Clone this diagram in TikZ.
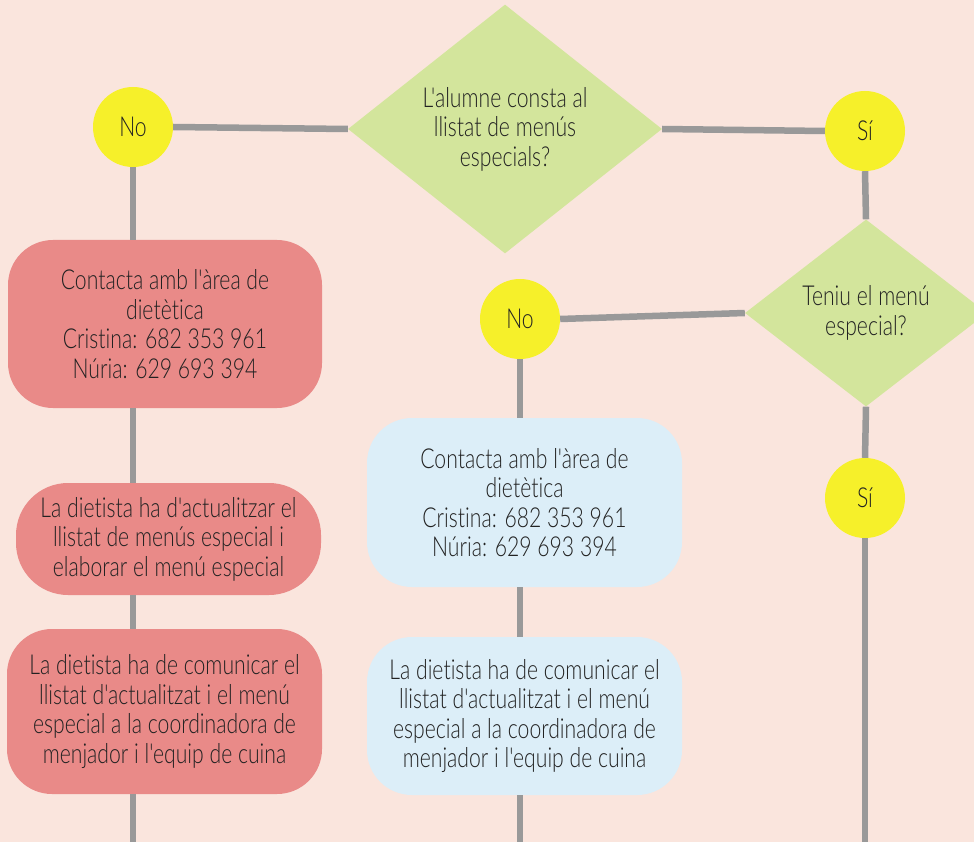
\documentclass[tikz,border=0pt]{standalone}
\usepackage{fontspec}
\IfFontExistsTF{Lato Light}
  {\setmainfont{Lato Light}[FakeStretch=0.77, Ligatures={TeXOff,NoCommon}]}
  {\setmainfont{Lato}[FakeStretch=0.77, Ligatures={TeXOff,NoCommon}]}
\usetikzlibrary{shapes.geometric}
\definecolor{bgc}{HTML}{FAE5DD}
\definecolor{redf}{HTML}{E98A88}
\definecolor{bluef}{HTML}{DCEEF8}
\definecolor{greenf}{HTML}{D3E59C}
\definecolor{yellowf}{HTML}{F6F02A}
\definecolor{linegray}{HTML}{999999}
\definecolor{textc}{HTML}{222222}
\begin{document}
\begin{tikzpicture}[x=1pt,y=-1pt,
  conn/.style={draw=linegray, line width=6.5pt},
  txt/.style={font=\fontsize{27.5}{29.5}\selectfont, text=textc, align=center},
  decision/.style={diamond, fill=greenf, inner sep=0pt, txt},
  answer/.style={circle, fill=yellowf, minimum size=80pt, inner sep=0pt, txt},
  redbox/.style={rectangle, rounded corners=45pt, fill=redf, inner sep=0pt, txt},
  bluebox/.style={rectangle, rounded corners=45pt, fill=bluef, inner sep=0pt, txt}]
\fill[bgc] (0,0) rectangle (974,842);
\useasboundingbox (0,0) rectangle (974,842);
\coordinate (bot) at (0,842);

\node[decision, minimum width=314pt, minimum height=243pt] (d1) at (505,129)
  {L'alumne consta al\\llistat de menús\\especials?};
\node[answer] (no1) at (133,127) {No};
\node[answer] (si1) at (865,131) {Sí};

\node[decision, minimum width=242pt, minimum height=187pt] (d2) at (866,313)
  {Teniu el menú\\especial?};
\node[answer] (no2) at (520,319) {No};
\node[answer] (si2) at (865,498) {Sí};

\node[redbox, minimum width=314pt, minimum height=168pt] (r1) at (165,324)
  {Contacta amb l'àrea de\\dietètica\\Cristina: 682 353 961\\Núria: 629 693 394};
\node[redbox, rounded corners=52pt, minimum width=305pt, minimum height=112pt] (r2) at (168.5,539)
  {La dietista ha d'actualitzar el\\llistat de menús especial i\\elaborar el menú especial};
\node[redbox, minimum width=315pt, minimum height=165pt] (r3) at (164.5,711.5)
  {La dietista ha de comunicar el\\llistat d'actualitzat i el menú\\especial a la coordinadora de\\menjador i l'equip de cuina};

\node[bluebox, minimum width=315pt, minimum height=169pt] (b1) at (524.5,502.5)
  {Contacta amb l'àrea de\\dietètica\\Cristina: 682 353 961\\Núria: 629 693 394};
\node[bluebox, minimum width=315pt, minimum height=158pt] (b2) at (524.5,716)
  {La dietista ha de comunicar el\\llistat d'actualitzat i el menú\\especial a la coordinadora de\\menjador i l'equip de cuina};

\draw[conn] (no1.east) -- (d1.west);
\draw[conn] (d1.east) -- (si1.west);
\draw[conn] (si1.south) -- (d2.north);
\draw[conn] (no2.east) -- (d2.west);
\draw[conn] (d2.south) -- (si2.north);
\draw[conn] (si2.south) -- (si2 |- bot);
\draw[conn] (no1.south) -- (no1 |- r1.north);
\draw[conn] (r1.south -| no1) -- (r2.north -| no1);
\draw[conn] (r2.south -| no1) -- (r3.north -| no1);
\draw[conn] (r3.south -| no1) -- (no1 |- bot);
\draw[conn] (no2.south) -- (no2 |- b1.north);
\draw[conn] (b1.south -| no2) -- (b2.north -| no2);
\draw[conn] (b2.south -| no2) -- (no2 |- bot);
\end{tikzpicture}
\end{document}
